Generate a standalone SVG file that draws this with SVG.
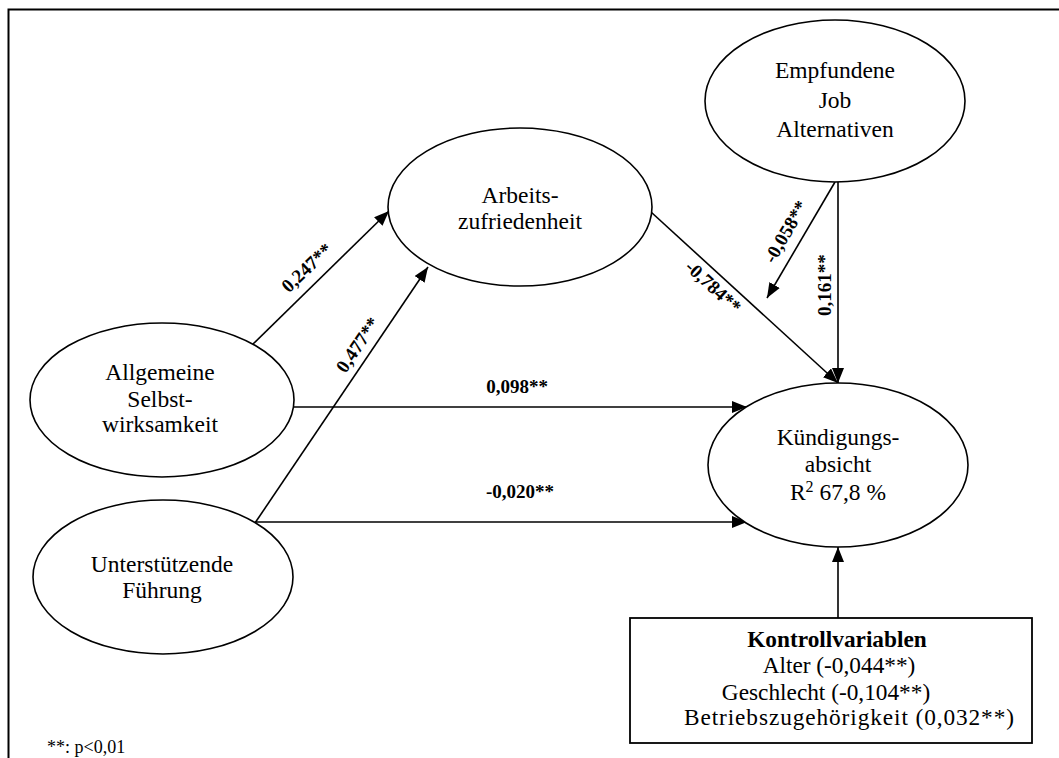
<svg xmlns="http://www.w3.org/2000/svg" width="1059" height="758" viewBox="0 0 1059 758">
<style>
.n{fill:#fff;stroke:#000;stroke-width:1.6}
.t{font-family:"Liberation Serif","Times New Roman",serif;font-size:23.5px;fill:#000;text-anchor:middle}
.b{font-family:"Liberation Serif","Times New Roman",serif;font-size:23.3px;fill:#000;text-anchor:middle}
.l{font-family:"Liberation Serif","Times New Roman",serif;font-size:19px;font-weight:bold;fill:#000;text-anchor:middle}
.c line{stroke:#000;stroke-width:1.6;marker-end:url(#ah)}
</style>
<defs>
<marker id="ah" markerUnits="userSpaceOnUse" markerWidth="16" markerHeight="12" refX="15" refY="6" orient="auto">
<path d="M0,0 L15,6 L0,12 Z" fill="#000"/>
</marker>
</defs>
<rect width="1059" height="758" fill="#fff"/>
<path d="M8.5,760 V9.5 H1061" fill="none" stroke="#000" stroke-width="2"/>

<g id="connectors" class="c">
<line x1="253" y1="344" x2="389" y2="211"/>
<line x1="255" y1="523" x2="428" y2="267"/>
<line x1="651" y1="212" x2="838" y2="383"/>
<line x1="838" y1="182" x2="838" y2="383"/>
<line x1="835" y1="182" x2="767" y2="298"/>
<line x1="293" y1="407" x2="747" y2="407"/>
<line x1="255" y1="522" x2="747" y2="522"/>
<line x1="838" y1="618" x2="838" y2="547"/>
</g>

<g id="labels">
<text class="l" transform="translate(307,268) rotate(-43.5)" y="6">0,247**</text>
<text class="l" transform="translate(358,345) rotate(-55.7)" y="6">0,477**</text>
<text class="l" transform="translate(713,287) rotate(42.6)" y="6">-0,784**</text>
<text class="l" transform="translate(786,232) rotate(-59.6)" y="6">-0,058**</text>
<text class="l" transform="translate(825,285) rotate(-90)" y="6">0,161**</text>
<text class="l" x="517" y="393">0,098**</text>
<text class="l" x="520" y="498">-0,020**</text>
</g>

<g id="empfundene">
<ellipse class="n" cx="835" cy="101" rx="130" ry="81"/>
<text class="t" x="835" y="78">Empfundene</text>
<text class="t" x="835" y="108">Job</text>
<text class="t" x="835" y="137">Alternativen</text>
</g>

<g id="arbeitszufriedenheit">
<ellipse class="n" cx="520" cy="207" rx="132" ry="79"/>
<text class="t" x="520" y="203">Arbeits-</text>
<text class="t" x="520" y="229">zufriedenheit</text>
</g>

<g id="selbstwirksamkeit">
<ellipse class="n" cx="162" cy="400" rx="132" ry="77"/>
<text class="t" x="160" y="380">Allgemeine</text>
<text class="t" x="160" y="407">Selbst-</text>
<text class="t" x="160" y="432">wirksamkeit</text>
</g>

<g id="fuehrung">
<ellipse class="n" cx="163" cy="577" rx="130" ry="77"/>
<text class="t" x="162" y="572">Unterstützende</text>
<text class="t" x="162" y="598">Führung</text>
</g>

<g id="kuendigungsabsicht">
<ellipse class="n" cx="838" cy="465" rx="130" ry="82"/>
<text class="t" x="838" y="445">Kündigungs-</text>
<text class="t" x="838" y="472">absicht</text>
<text class="t" x="838" y="500">R<tspan font-size="16" dy="-8">2</tspan><tspan dy="8"> 67,8 %</tspan></text>
</g>

<g id="kontrollvariablen">
<rect x="630" y="618" width="402" height="125" fill="#fff" stroke="#000" stroke-width="1.8"/>
<text class="b" x="837" y="647" font-weight="bold">Kontrollvariablen</text>
<text class="b" x="839" y="673">Alter (-0,044**)</text>
<text class="b" x="826" y="700">Geschlecht (-0,104**)</text>
<text class="b" x="849" y="725" textLength="330" lengthAdjust="spacing">Betriebszugehörigkeit (0,032**)</text>
</g>

<text x="47" y="753" font-family="Liberation Serif,Times New Roman,serif" font-size="18" fill="#000">**: p&lt;0,01</text>
</svg>
